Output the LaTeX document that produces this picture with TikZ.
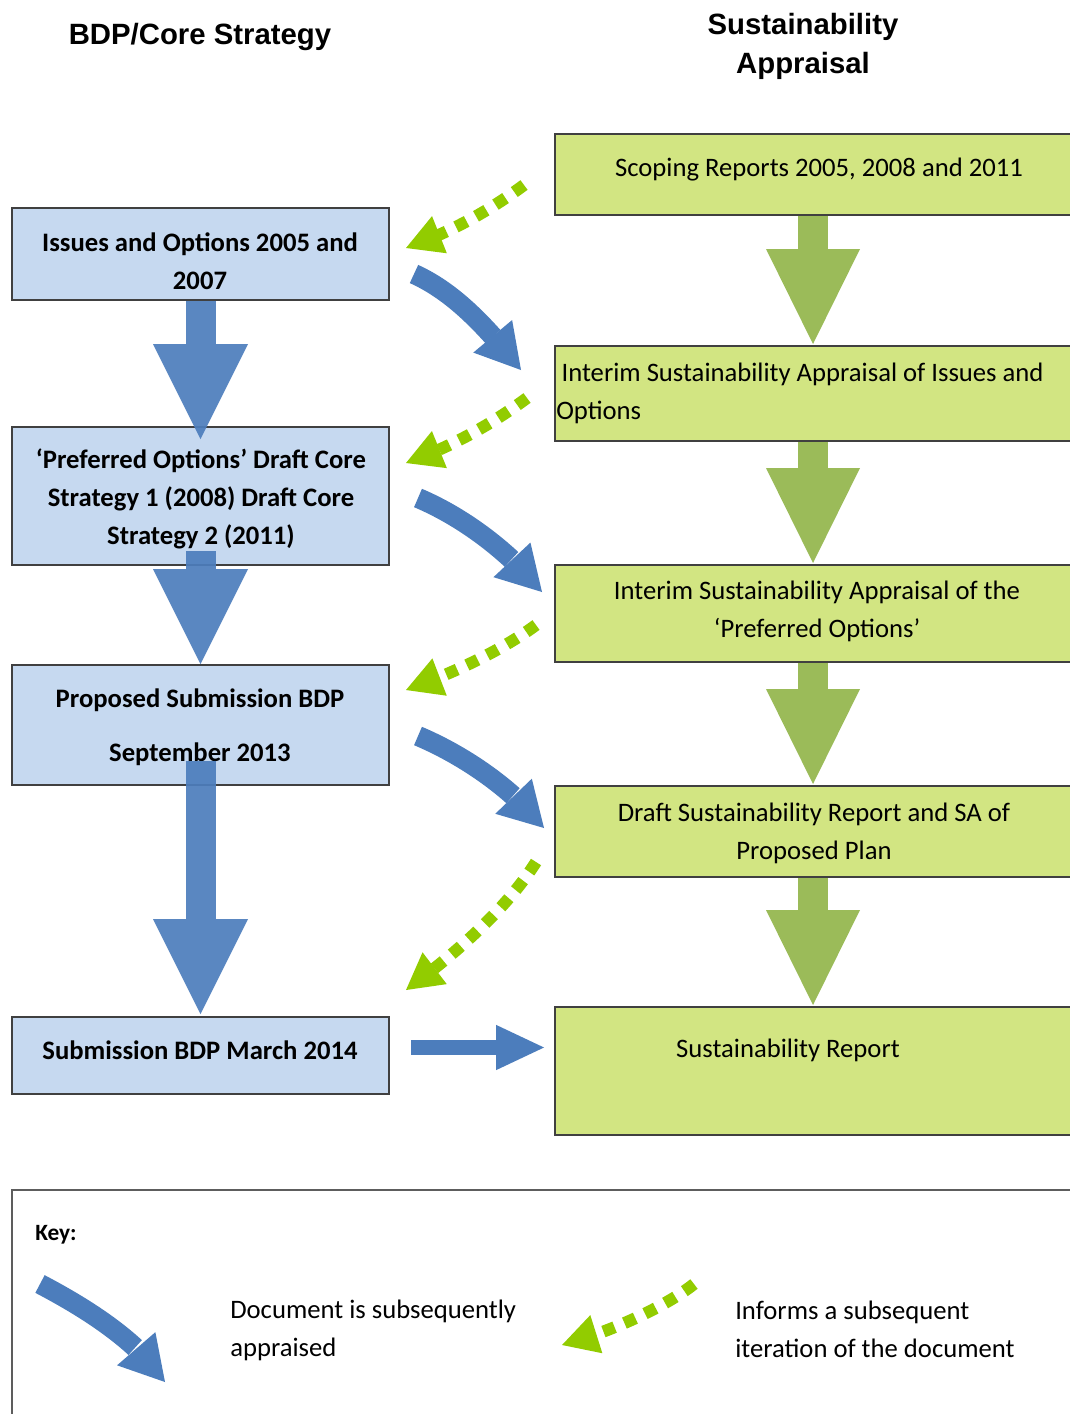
\documentclass[tikz,border=0pt]{standalone}
\usepackage{fontspec}
\setmainfont{Carlito}
\newfontfamily\hdfont{Liberation Sans}
\usetikzlibrary{arrows.meta,calc,bending}
\definecolor{bluefill}{RGB}{198,217,240}
\definecolor{greenfill}{RGB}{210,229,130}
\definecolor{bluearr}{RGB}{76,125,188}
\definecolor{greenarr}{RGB}{155,187,89}
\definecolor{limearr}{RGB}{146,204,0}
\definecolor{edge}{RGB}{64,64,64}
\begin{document}
\begin{tikzpicture}[x=0.75pt,y=-0.75pt,
 lbox/.style={draw=edge,line width=1.5pt,fill=bluefill,minimum width=282.75pt,inner sep=0pt},
 rbox/.style={draw=edge,line width=1.5pt,fill=greenfill,minimum width=397.5pt,inner sep=0pt},
 txt/.style={inner sep=0pt,align=center,font=\fontsize{20pt}{28.5pt}\selectfont},
 btxt/.style={inner sep=0pt,align=center,font=\fontsize{20pt}{28.5pt}\selectfont\bfseries},
 hd/.style={inner sep=0pt,align=center,font=\hdfont\bfseries\fontsize{22pt}{29.25pt}\selectfont},
 blockblue/.style={draw=bluearr,opacity=0.92,line width=22.5pt,-{Triangle[width=71.25pt,length=71.25pt,line width=0pt]}},
 blockgreen/.style={draw=greenarr,line width=22.5pt,-{Triangle[width=70.5pt,length=71.25pt,line width=0pt]}},
 curveblue/.style={draw=bluearr,line width=15pt,-{Triangle[flex,width=38pt,length=33pt,line width=0pt]}},
 dotgreen/.style={draw=limearr,line width=9pt,dash pattern=on 9pt off 8pt,-{Triangle[flex,width=30pt,length=27pt,line width=0pt]}},
]
\useasboundingbox (0,0) rectangle (1070,1414);
\clip (0,0) rectangle (1070,1414);
\fill[white] (0,0) rectangle (1070,1414);

% headers
\node[hd] (h1) at (200,37) {BDP/Core Strategy};
\node[hd] (h2) at (803,46.5) {Sustainability\\Appraisal};

% left boxes
\node[lbox,minimum height=69pt] (b1) at (200.5,254) {};
\node[lbox,minimum height=103.5pt] (b2) at (200.5,496) {};
\node[lbox,minimum height=90pt] (b3) at (200.5,725) {};
\node[lbox,minimum height=57.75pt] (b4) at (200.5,1055.5) {};

% right boxes
\node[rbox,minimum height=60.75pt] (s1) at (820,174.5) {};
\node[rbox,minimum height=71.25pt] (s2) at (820,393.5) {};
\node[rbox,minimum height=72.75pt] (s3) at (820,613.5) {};
\node[rbox,minimum height=68.25pt] (s4) at (820,831.5) {};
\node[rbox,minimum height=96pt] (s5) at (820,1071) {};

% key box
\node[draw=edge!85,line width=1.5pt,minimum width=808.5pt,minimum height=180pt,inner sep=0pt] (key) at (551,1310) {};

% texts
\node[btxt] (t1) at (200,261) {Issues and Options 2005 and\\2007};
\node[btxt] (t2) at (201,499) {‘Preferred Options’ Draft Core\\Strategy 1 (2008) Draft Core\\Strategy 2 (2011)};
\node[btxt] (t3) at (200,727.5) {Proposed Submission BDP\\[12pt]September 2013};
\node[btxt] (t4) at (200,1050) {Submission BDP March 2014};
\node[txt] (u1) at (819,170) {Scoping Reports 2005, 2008 and 2011};
\node[txt,align=left,anchor=west] (u2) at (556,393) {\hspace*{4pt}Interim Sustainability Appraisal of Issues and\\Options};
\node[txt] (u3) at (817,611.5) {Interim Sustainability Appraisal of the\\‘Preferred Options’};
\node[txt] (u4) at (814,833) {Draft Sustainability Report and SA of\\Proposed Plan};
\node[txt] (u5) at (788,1050.5) {Sustainability Report};

\node[inner sep=0pt,anchor=west,font=\fontsize{17.5pt}{20pt}\selectfont\bfseries] (keyt) at (35,1235) {Key:};
\node[txt,align=left,anchor=west] (k1t) at (230,1330) {Document is subsequently\\appraised};
\node[txt,align=left,anchor=west] (k2t) at (735,1329) {Informs a subsequent\\iteration of the document};

% block arrows
\draw[blockblue] (b1.south) -- ($(b2.north)+(0,13)$);
\draw[blockblue] ($(b2.south)+(0,-15)$) -- (b3.north);
\draw[blockblue] ($(b3.south)+(0,-25)$) -- ($(b4.north)+(0,-2)$);

\draw[blockgreen] ($(s1.south)+(-7,0)$) -- ($(s2.north)+(-7,-1)$);
\draw[blockgreen] ($(s2.south)+(-7,0)$) -- ($(s3.north)+(-7,-1)$);
\draw[blockgreen] ($(s3.south)+(-7,0)$) -- ($(s4.north)+(-7,-1)$);
\draw[blockgreen] ($(s4.south)+(-7,0)$) -- ($(s5.north)+(-7,-1)$);

\draw[draw=bluearr,line width=11.25pt,-{Triangle[width=34pt,length=36pt,line width=0pt]}] ($(b4.east)+(21,-8)$) -- ($(b4.east -| s5.west)+(-10,-8)$);

% curved blue arrows
\draw[curveblue] ($(b1.east)+(24,20)$) .. controls +(42,19) and +(-32,-40) .. ($(s2.west)+(-33,-23.5)$);
\draw[curveblue] ($(b2.east)+(28,2)$) .. controls +(45,19) and +(-32,-40) .. ($(s3.west)+(-12,-21.5)$);
\draw[curveblue] ($(b3.east)+(28,11)$) .. controls +(45,19) and +(-32,-40) .. ($(s4.west)+(-10,-3.5)$);

% dotted green arrows
\draw[dotgreen] ($(s1.west)+(-30,10.5)$) .. controls +(-35,26) and +(45,-16) .. ($(b1.east)+(16,-6)$);
\draw[dotgreen] ($(s2.west)+(-27,4.5)$) .. controls +(-35,26) and +(45,-16) .. ($(b2.east)+(16,-33)$);
\draw[dotgreen] ($(s3.west)+(-18,11.5)$) .. controls +(-35,26) and +(45,-16) .. ($(b3.east)+(16,-35)$);
\draw[dotgreen] ($(s4.west)+(-18,30.5)$) .. controls +(-27,43) and +(55,-40) .. ($(b4.east)+(16,-65.5)$);

% key arrows
\coordinate (k1a) at (40,1284);
\coordinate (k1b) at (165,1382);
\draw[curveblue] (k1a) .. controls +(42,22) and +(-27,-42) .. (k1b);
\coordinate (k2a) at (694,1284);
\coordinate (k2b) at (562,1345);
\draw[dotgreen] (k2a) .. controls +(-25,20) and +(55,-15) .. (k2b);
\end{tikzpicture}
\end{document}
